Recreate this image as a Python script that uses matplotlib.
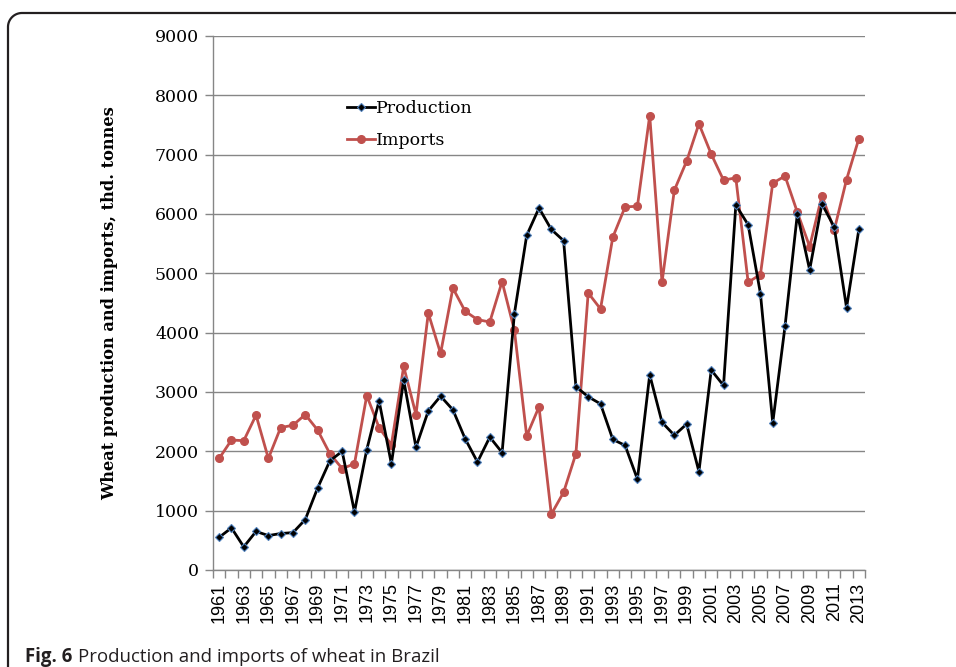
import matplotlib
matplotlib.use("Agg")
import matplotlib.pyplot as plt
import numpy as np

years = list(range(1961, 2014))
production = [550, 710, 390, 650, 580, 615, 630, 850, 1380, 1840,
              2000, 980, 2030, 2850, 1790, 3200, 2070, 2680, 2930, 2700,
              2210, 1820, 2240, 1980, 4320, 5640, 6100, 5740, 5550, 3090,
              2920, 2800, 2200, 2100, 1530, 3290, 2490, 2270, 2460, 1660,
              3370, 3110, 6150, 5820, 4660, 2480, 4110, 6000, 5060, 6170,
              5780, 4420, 5740]
imports = [1880, 2190, 2180, 2610, 1880, 2400, 2440, 2620, 2360, 1960,
           1710, 1790, 2940, 2400, 2110, 3430, 2620, 4330, 3650, 4750,
           4360, 4220, 4180, 4860, 4040, 2260, 2750, 940, 1310, 1960,
           4670, 4400, 5610, 6120, 6130, 7660, 4850, 6400, 6890, 7520,
           7010, 6570, 6610, 4850, 4980, 6520, 6640, 6030, 5450, 6310,
           5730, 6580, 7270]
y_ticks = list(range(0, 10000, 1000))

W, H = 956, 667
fig = plt.figure(figsize=(W / 100, H / 100), dpi=100)

# background axes in pixel units for the rounded frame
bg = fig.add_axes([0, 0, 1, 1], zorder=0)
bg.set_xlim(0, W)
bg.set_ylim(H, 0)
bg.axis("off")
r = 14
th = np.linspace(np.pi, 1.5 * np.pi, 30)
fx = np.concatenate([[8], 8 + r + r * np.cos(th), [W + 20]])
fy = np.concatenate([[H + 20], 13 + r + r * np.sin(th), [13]])
bg.plot(fx, fy, color="#231f20", linewidth=1.6, clip_on=False,
        solid_capstyle="butt")

ax = fig.add_axes([213 / W, 1 - 570 / H, (865 - 213) / W, (570 - 36) / H], zorder=1)
ax.patch.set_alpha(0)
x = np.arange(len(years))

ax.plot(x, imports, color="#C0504D", linewidth=2.0, marker="o", markersize=5.5,
        markerfacecolor="#C0504D", markeredgecolor="#C0504D", label="Imports", zorder=3)
ax.plot(x, production, color="black", linewidth=2.0, marker="D", markersize=3.6,
        markerfacecolor="black", markeredgecolor="#4F81BD", markeredgewidth=0.8,
        label="Production", zorder=4)

ax.set_xlim(-0.5, len(years) - 0.5)
ax.set_ylim(0, 9000)
ax.set_yticks(y_ticks)
ax.set_yticklabels([str(v) for v in y_ticks], family="DejaVu Serif", fontsize=12.5)
ax.yaxis.grid(True, color="#868686", linewidth=1.0)
ax.set_axisbelow(True)

lab_idx = x[::2]
ax.set_xticks(lab_idx)
ax.set_xticklabels([str(years[i]) for i in lab_idx], rotation=90,
                   family="Liberation Sans", fontsize=13)
ax.set_xticks(np.arange(-0.5, len(years)), minor=True)
ax.tick_params(axis="x", which="major", length=0, pad=9)
ax.tick_params(axis="x", which="minor", length=6, color="#868686", width=1)
ax.tick_params(axis="y", length=6, color="#868686", width=1, pad=4)

for s in ["top", "right"]:
    ax.spines[s].set_visible(False)
for s in ["left", "bottom"]:
    ax.spines[s].set_color("#868686")
    ax.spines[s].set_linewidth(1.0)

ax.set_ylabel("Wheat production and imports, thd. tonnes", family="DejaVu Serif",
              fontweight="bold", fontsize=11.7)
ax.yaxis.set_label_coords(-(213 - 118) / 652, 0.5)

handles, labels = ax.get_legend_handles_labels()
leg = ax.legend(handles[::-1], labels[::-1], loc="upper left",
                bbox_to_anchor=((340 - 213) / 652, (570 - 93) / 534),
                frameon=False, prop={"family": "DejaVu Serif", "size": 12.5},
                handlelength=1.6, handletextpad=0.1, labelspacing=0.85,
                borderaxespad=0)

# caption
t1 = fig.text(25 / W, 1 - 662 / H, "Fig. 6", family="Open Sans", fontweight="bold",
              fontsize=13.4, color="#231f20")
fig.canvas.draw()
bb = t1.get_window_extent()
fig.text((bb.x1 + 6) / W, 1 - 662 / H, "Production and imports of wheat in Brazil",
         family="Open Sans", fontsize=13.4, color="#231f20")

fig.savefig("out.png", dpi=100)
